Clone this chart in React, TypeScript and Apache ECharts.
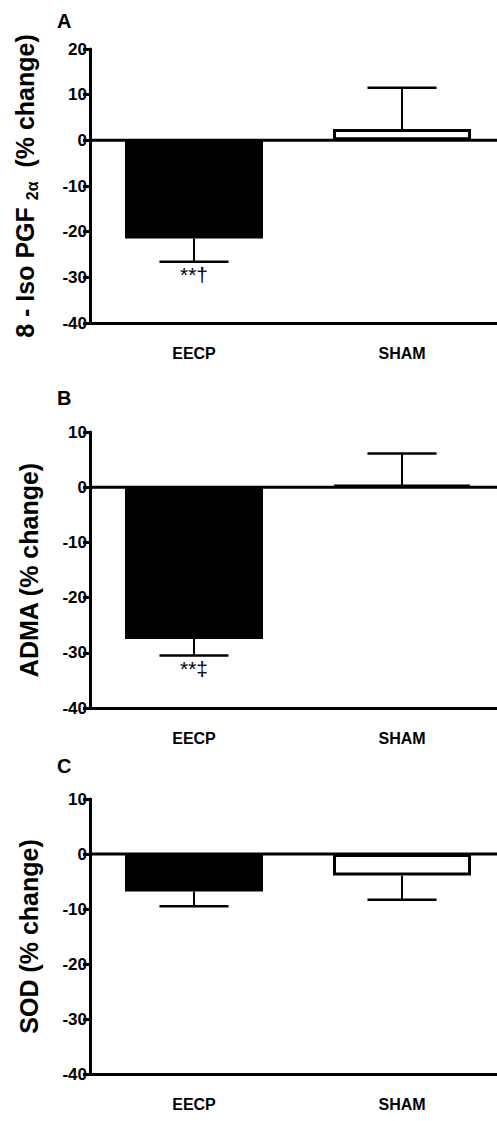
import React, { useEffect, useRef } from "react";
import * as echarts from "echarts";

const categories = ["EECP", "SHAM"];

// Panel A: 8-Iso PGF2α (% change)
const isoMeans = [-21.5, 2.5];
const isoSem = [5.1, 9.0];
const isoMarks = ["**†", ""];

// Panel B: ADMA (% change)
const admaMeans = [-27.5, 0.4];
const admaSem = [3.0, 5.7];
const admaMarks = ["**‡", ""];

// Panel C: SOD (% change)
const sodMeans = [-6.8, -3.9];
const sodSem = [2.7, 4.4];
const sodMarks = ["", ""];

const panelLetters = ["A", "B", "C"];
const yMins = [-40, -40, -40];
const yMaxs = [20, 10, 10];
const yInterval = 10;

const FONT = "'Liberation Sans', Arial, Helvetica, sans-serif";

export default function App() {
  const ref = useRef<HTMLDivElement>(null);

  useEffect(() => {
    if (!ref.current) return;
    const chart = echarts.init(ref.current, null, { renderer: "svg" });

    const baseGrid = {
      show: false,
      borderWidth: 0,
      borderColor: "transparent",
      left: 90,
      width: 416,
      outerBoundsMode: "none",
      containLabel: false,
    };
    const grids = [
      { ...baseGrid, top: 49, height: 274 },
      { ...baseGrid, top: 432, height: 276 },
      { ...baseGrid, top: 799, height: 275 },
    ];
    const letterTops = [11, 388, 756];
    const names = [
      "8 - Iso PGF {sub|2α}  (% change)",
      "ADMA (% change)",
      "SOD (% change)",
    ];
    const nameGaps = [50, 46, 46];
    const means = [isoMeans, admaMeans, sodMeans];
    const sems = [isoSem, admaSem, sodSem];
    const marks = [isoMarks, admaMarks, sodMarks];

    const xAxis = grids.map((_, i) => ({
      type: "category",
      gridIndex: i,
      position: "bottom",
      data: categories,
      axisLine: { show: true, onZero: false, lineStyle: { color: "#000", width: 3 } },
      axisTick: { show: false },
      splitLine: { show: false },
      splitArea: { show: false },
      axisLabel: {
        color: "#000",
        fontSize: 16,
        fontWeight: "bold",
        fontFamily: FONT,
        margin: 22,
      },
    }));

    const yAxis = grids.map((_, i) => ({
      type: "value",
      gridIndex: i,
      position: "left",
      offset: 0,
      min: yMins[i],
      max: yMaxs[i],
      interval: yInterval,
      axisLine: { show: true, onZero: false, lineStyle: { color: "#000", width: 3 } },
      axisTick: { show: true, length: 7, lineStyle: { color: "#000", width: 3 } },
      splitLine: { show: false },
      splitArea: { show: false },
      axisLabel: {
        color: "#000",
        fontSize: 17,
        fontWeight: "bold",
        fontFamily: FONT,
        margin: 3,
      },
      name: names[i],
      nameLocation: "middle",
      nameRotate: 90,
      nameGap: nameGaps[i],
      nameTextStyle: {
        color: "#000",
        fontSize: 25,
        fontWeight: "bold",
        fontFamily: FONT,
        lineHeight: 30,
        rich: {
          sub: {
            color: "#000",
            fontSize: 16,
            fontWeight: "bold",
            fontFamily: FONT,
            lineHeight: 16,
            verticalAlign: "bottom",
          },
        },
      },
    }));

    const series: any[] = [];
    grids.forEach((_, i) => {
      series.push({
        type: "bar",
        xAxisIndex: i,
        yAxisIndex: i,
        barWidth: 138,
        data: means[i].map((v, k) => ({
          value: v,
          itemStyle: {
            color: k === 0 ? "#000" : "#fff",
            borderColor: "#000",
            borderWidth: 3,
          },
        })),
        z: 2,
      });
      const m = marks[i];
      series.push({
        type: "custom",
        xAxisIndex: i,
        yAxisIndex: i,
        z: 3,
        data: means[i].map((v, k) => [k, v, sems[i][k]]),
        renderItem: (params: any, api: any) => {
          const idx = api.value(0);
          const mean = api.value(1);
          const s = api.value(2);
          const end = mean < 0 ? mean - s : mean + s;
          const p0 = api.coord([idx, mean]);
          const p1 = api.coord([idx, end]);
          const half = 34.5;
          const children: any[] = [];
          if (params.dataIndex === 0) {
            const cs = params.coordSys;
            const zy = api.coord([0, 0])[1];
            children.push({
              type: "line",
              shape: { x1: cs.x, y1: zy, x2: cs.x + cs.width, y2: zy },
              style: { stroke: "#000", lineWidth: 3 },
              z2: -1,
            });
          }
          children.push(
            {
              type: "line",
              shape: { x1: p0[0], y1: p0[1], x2: p0[0], y2: p1[1] },
              style: { stroke: "#000", lineWidth: 2 },
            },
            {
              type: "line",
              shape: { x1: p0[0] - half, y1: p1[1], x2: p0[0] + half, y2: p1[1] },
              style: { stroke: "#000", lineWidth: 2.5 },
            }
          );
          const label = m[params.dataIndex];
          if (label) {
            children.push({
              type: "text",
              x: p0[0],
              y: p1[1] + 2,
              style: {
                text: label,
                textAlign: "center",
                textVerticalAlign: "top",
                font: `21px ${FONT}`,
                fill: "#000",
              },
            });
          }
          return { type: "group", children };
        },
      });
    });

    const graphic = panelLetters.map((t, i) => ({
      type: "text",
      left: 57,
      top: letterTops[i],
      style: {
        text: t,
        font: `bold 20px ${FONT}`,
        fill: "#000",
      },
    }));

    chart.setOption({
      animation: false,
      backgroundColor: "#fff",
      grid: grids,
      xAxis,
      yAxis,
      series,
      graphic,
    });

    return () => chart.dispose();
  }, []);

  return (
    <div
      style={{
        position: "fixed",
        left: 0,
        top: 0,
        width: 497,
        height: 1121,
        overflow: "hidden",
        background: "#fff",
      }}
    >
      <div ref={ref} style={{ width: 530, height: 1121 }} />
    </div>
  );
}
